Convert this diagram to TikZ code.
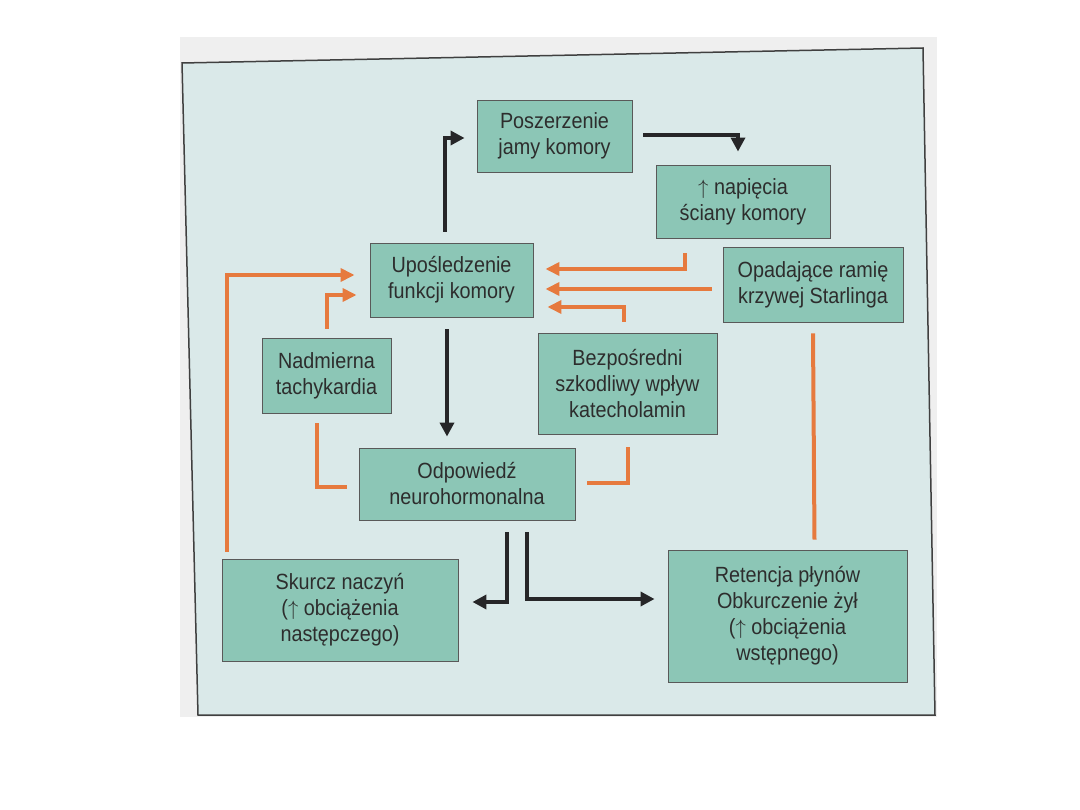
\documentclass[tikz,border=0pt]{standalone}
\usepackage{fontspec}
\setmainfont{Liberation Sans}[FakeStretch=0.9]
\usetikzlibrary{calc,arrows.meta}
\definecolor{boxc}{RGB}{140,198,182}
\definecolor{bgc}{RGB}{218,233,233}
\definecolor{scanc}{RGB}{239,239,239}
\definecolor{orgc}{RGB}{230,122,62}
\definecolor{blkc}{RGB}{38,38,40}
\definecolor{txtc}{RGB}{45,45,45}
\newcommand{\upar}{$\uparrow$}
\tikzset{
  boxn/.style={draw=black!65, line width=0.9pt, fill=boxc, align=center, inner sep=0pt,
    text=txtc, font=\fontsize{22}{26}\selectfont},
  blk/.style={draw=blkc, line width=4.5pt, -{Triangle[length=14pt,width=14pt]}},
  org/.style={draw=orgc, line width=4pt, -{Triangle[length=14pt,width=13pt]}},
  orgl/.style={draw=orgc, line width=4pt},
}
\begin{document}
\begin{tikzpicture}[x=1pt,y=-1pt]
\useasboundingbox (0,0) rectangle (1080,810);
\fill[white] (0,0) rectangle (1080,810);
\fill[scanc] (180,37) rectangle (937,717);
\filldraw[fill=bgc, draw=black!75, line width=1.5pt] (182,63) -- (923,48) -- (935,715) -- (198,715) -- cycle;

\node[boxn, minimum width=155, minimum height=72] (posz) at (554.5,136) {Poszerzenie\\jamy komory};
\node[boxn, minimum width=174, minimum height=73] (nap) at (743,201.5) {\upar{} napięcia\\ściany komory};
\node[boxn, minimum width=163, minimum height=74] (upo) at (451.5,280) {Upośledzenie\\funkcji komory};
\node[boxn, minimum width=180, minimum height=75] (opa) at (813,284.5) {Opadające ramię\\krzywej Starlinga};
\node[boxn, minimum width=129, minimum height=75] (tach) at (326.5,375.5) {Nadmierna\\tachykardia};
\node[boxn, minimum width=179, minimum height=101] (bez) at (627.5,383.5) {Bezpośredni\\szkodliwy wpływ\\katecholamin};
\node[boxn, minimum width=216, minimum height=72] (odp) at (467,484) {Odpowiedź\\neurohormonalna};
\node[boxn, minimum width=236, minimum height=102] (sku) at (340,610) {Skurcz naczyń\\(\upar{} obciążenia\\następczego)};
\node[boxn, minimum width=239, minimum height=132] (ret) at (787.5,616) {Retencja płynów\\Obkurczenie żył\\(\upar{} obciążenia\\wstępnego)};

% black connectors
\draw[blk] ($(upo.north)+(-6.5,-11)$) |- ($(posz.west)+(-12,2)$);
\draw[blk] ($(posz.east)+(11,-1)$) -| ($(nap.north)+(-5,-13)$);
\draw[blk] ($(upo.south)+(-4.5,12)$) -- ($(odp.north)+(-20,-11)$);
\draw[blk] ($(odp.south)+(40,12)$) |- ($(sku.east)+(14,-8)$);
\draw[blk] ($(odp.south)+(60,12)$) |- ($(ret.west)+(-13,-17)$);

% orange connectors
\draw[org] ($(sku.north)+(-113,-7)$) |- ($(upo.west)+(-15,-5)$);
\draw[org] ($(tach.north)+(0,-9)$) |- ($(upo.west)+(-13,15)$);
\draw[orgl] ($(odp.west)+(-12,3)$) -| ($(tach.south)+(-9.5,10)$);
\draw[org] ($(nap.south)+(-58,15)$) |- ($(upo.east)+(12,-11)$);
\draw[org] ($(opa.west)+(-11,4.5)$) -- ($(upo.east)+(12,9)$);
\draw[org] ($(bez.north)+(-3.5,-11)$) |- ($(upo.east)+(14,27)$);
\draw[orgl] ($(odp.east)+(12,-1)$) -| ($(bez.south)+(0.5,13)$);
\draw[orgl] ($(opa.south)+(0,11)$) -- ($(ret.north)+(27,-10)$);
\end{tikzpicture}
\end{document}
